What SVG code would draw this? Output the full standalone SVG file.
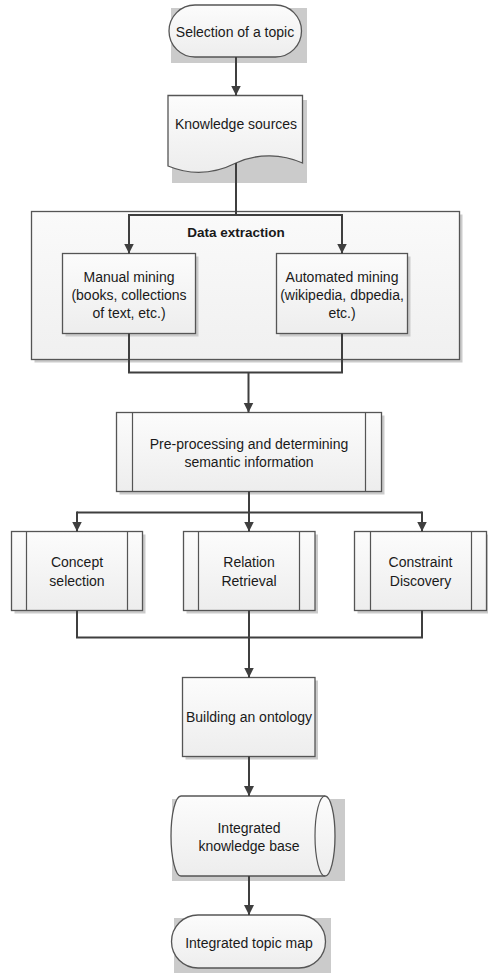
<svg xmlns="http://www.w3.org/2000/svg" width="488" height="973" viewBox="0 0 488 973">
<defs>
<linearGradient id="g" x1="0" y1="0" x2="0" y2="1">
<stop offset="0" stop-color="#fcfcfc"/>
<stop offset="1" stop-color="#ededed"/>
</linearGradient>
<linearGradient id="gc" x1="0" y1="0" x2="0" y2="1">
<stop offset="0" stop-color="#fafafa"/>
<stop offset="1" stop-color="#f0f0f0"/>
</linearGradient>
<marker id="ah" viewBox="0 0 10 11" refX="10" refY="5" markerWidth="10" markerHeight="11" markerUnits="userSpaceOnUse" orient="auto">
<path d="M0,0 L10,5 L0,10 Z" fill="#3f3f3f"/>
</marker>
</defs>
<style>
.sh{fill:#cbcbcb;stroke:none}
.bx{fill:url(#g);stroke:#555555;stroke-width:1.3}
.ct{fill:url(#gc);stroke:#555555;stroke-width:1.3}
.ln{fill:none;stroke:#555555;stroke-width:1.2}
.t{font-family:"Liberation Sans",Arial,sans-serif;font-size:14px;fill:#1a1a1a;text-anchor:middle}
.b{font-weight:bold;font-size:13.5px}
.c{fill:none;stroke:#3f3f3f;stroke-width:2}
.ca{fill:none;stroke:#3f3f3f;stroke-width:2;marker-end:url(#ah)}
</style>

<g id="container">
<rect class="sh" x="34.5" y="214.5" width="428" height="148"/>
<rect class="ct" x="31.5" y="211.5" width="428" height="148"/>
<text class="t b" x="236" y="237">Data extraction</text>
</g>

<g id="n1">
<rect class="sh" x="171" y="8" width="136" height="55"/>
<rect class="bx" x="169" y="5" width="132.5" height="52" rx="26" ry="26"/>
<text class="t" x="235" y="37">Selection of a topic</text>
</g>

<g id="n2">
<rect class="sh" x="172" y="100" width="135" height="83"/>
<path class="bx" d="M168,95.5 H302.5 V163 C282,154 258,153 236,163 C214,174 192,176 168,166 Z"/>
<text class="t" x="236" y="129">Knowledge sources</text>
</g>

<g id="n3">
<rect class="sh" x="65.5" y="256.5" width="133" height="80"/>
<rect class="bx" x="62.5" y="253.5" width="133" height="80"/>
<text class="t" x="129" y="282">Manual mining</text>
<text class="t" x="129" y="300">(books, collections</text>
<text class="t" x="129" y="318">of text, etc.)</text>
</g>

<g id="n4">
<rect class="sh" x="279.5" y="256.5" width="131" height="80"/>
<rect class="bx" x="276.5" y="253.5" width="131" height="80"/>
<text class="t" x="342" y="282">Automated mining</text>
<text class="t" x="342" y="300">(wikipedia, dbpedia,</text>
<text class="t" x="342" y="318">etc.)</text>
</g>

<g id="n5">
<rect class="sh" x="119.5" y="415.5" width="265" height="79"/>
<rect class="bx" x="116.5" y="412.5" width="265" height="79"/>
<path class="ln" d="M132.5,412.5 V491.5 M365.5,412.5 V491.5"/>
<text class="t" x="249" y="449">Pre-processing and determining</text>
<text class="t" x="249" y="467">semantic information</text>
</g>

<g id="n6">
<rect class="sh" x="14.5" y="534.5" width="131" height="79"/>
<rect class="bx" x="11.5" y="531.5" width="131" height="79"/>
<path class="ln" d="M26.5,531.5 V610.5 M127.5,531.5 V610.5"/>
<text class="t" x="77" y="566.5">Concept</text>
<text class="t" x="77" y="585.5">selection</text>
</g>

<g id="n7">
<rect class="sh" x="186.5" y="534.5" width="131.5" height="79"/>
<rect class="bx" x="183.5" y="531.5" width="131.5" height="79"/>
<path class="ln" d="M198.5,531.5 V610.5 M299.5,531.5 V610.5"/>
<text class="t" x="249" y="566.5">Relation</text>
<text class="t" x="249" y="585.5">Retrieval</text>
</g>

<g id="n8">
<rect class="sh" x="357.5" y="534.5" width="131" height="79"/>
<rect class="bx" x="354.5" y="531.5" width="132" height="79"/>
<path class="ln" d="M370.5,531.5 V610.5 M471.5,531.5 V610.5"/>
<text class="t" x="420.5" y="566.5">Constraint</text>
<text class="t" x="420.5" y="585.5">Discovery</text>
</g>

<g id="n9">
<rect class="sh" x="185.5" y="680.5" width="132.5" height="79"/>
<rect class="bx" x="182.5" y="677.5" width="132.5" height="79"/>
<text class="t" x="249" y="721.5">Building an ontology</text>
</g>

<g id="n10">
<rect class="sh" x="172" y="799" width="173" height="82"/>
<path class="bx" d="M181,796 H325 A10,40 0 0 1 325,876 H181 A10,40 0 0 1 181,796 Z"/>
<path class="ln" d="M325,796 A10,40 0 0 0 325,876"/>
<text class="t" x="249" y="833">Integrated</text>
<text class="t" x="249" y="851">knowledge base</text>
</g>

<g id="n11">
<rect class="sh" x="174" y="918" width="157" height="55"/>
<rect class="bx" x="171.5" y="915" width="154" height="53" rx="26.5" ry="26.5"/>
<text class="t" x="249" y="947.5">Integrated topic map</text>
</g>

<g id="connectors">
<path class="ca" d="M236,57 V95.5"/>
<path class="c" d="M236,163 V215 M129,215 H342"/>
<path class="ca" d="M129,214 V253.5"/>
<path class="ca" d="M342,214 V253.5"/>
<path class="c" d="M129,333.5 V372.5 H342 V333.5"/>
<path class="ca" d="M248.5,372.5 V412.5"/>
<path class="c" d="M249,491.5 V512.5 M77,512.5 H422"/>
<path class="ca" d="M77,511.5 V531.5"/>
<path class="ca" d="M249,511.5 V531.5"/>
<path class="ca" d="M422,511.5 V531.5"/>
<path class="c" d="M77,610.5 V637.5 H422 V610.5 M249,610.5 V637.5"/>
<path class="ca" d="M249,637.5 V677.5"/>
<path class="ca" d="M249,756.5 V796"/>
<path class="ca" d="M249,876 V915"/>
</g>
</svg>
